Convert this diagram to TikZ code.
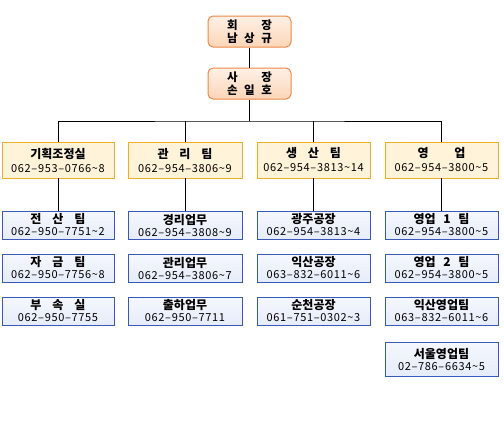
\documentclass[tikz,border=0pt]{standalone}
\usepackage{fontspec}
\setmainfont{Noto Sans CJK KR}
\newfontfamily\telfont[LetterSpace=6]{Noto Sans CJK KR}
\usetikzlibrary{shadows}
\definecolor{topfill}{HTML}{FCD6B8}
\definecolor{topdraw}{HTML}{EE8848}
\definecolor{midfill}{HTML}{FFF4D9}
\definecolor{middraw}{HTML}{EFAE2A}
\definecolor{lowfill}{HTML}{E6ECFA}
\definecolor{lowdraw}{HTML}{3A58B8}
\newcommand{\nm}[1]{{\fontsize{12}{13}\selectfont\bfseries #1}}
\newcommand{\tel}[1]{{\telfont\fontsize{11}{13}\selectfont #1}}
\newcommand{\spread}[2]{\makebox[#1][s]{#2}}
\tikzset{
  conn/.style={draw=black, line width=0.9pt},
  topbox/.style={draw=topdraw, line width=1pt, rounded corners=5pt,
    top color=topfill!35!white, bottom color=topfill,
    minimum width=83pt, minimum height=31pt, inner sep=0pt, align=center,
    font=\fontsize{11.5}{12.5}\selectfont\bfseries},
  midbox/.style={draw=middraw, line width=0.8pt, fill=midfill,
    drop shadow={shadow xshift=1.2pt, shadow yshift=-1.2pt, opacity=0.35},
    minimum height=36pt, inner sep=0pt, align=center},
  lowbox/.style={draw=lowdraw, line width=0.8pt, top color=lowfill!40!white, bottom color=lowfill,
    drop shadow={shadow xshift=1.2pt, shadow yshift=-1.2pt, opacity=0.35},
    minimum height=28pt, inner sep=0pt, align=center},
}
\begin{document}
\begin{tikzpicture}[x=1pt, y=-1pt]
\useasboundingbox (0,0) rectangle (504,440);
% top
\node[topbox] (ceo) at (249.5,31.5) {\spread{45pt}{회\hfill 장}\\\spread{45pt}{남\hfill 상\hfill 규}};
\node[topbox] (pres) at (249.5,83.5) {\spread{45pt}{사\hfill 장}\\\spread{45pt}{손\hfill 일\hfill 호}};
% level 2
\node[midbox, minimum width=112pt] (m1) at (58,160) {\nm{기획조정실}\\[2pt]\tel{062–953–0766\textasciitilde 8}};
\node[midbox, minimum width=114pt] (m2) at (185,160) {\nm{\spread{55pt}{관\hfill 리\hfill 팀}}\\[2pt]\tel{062–954–3806\textasciitilde 9}};
\node[midbox, minimum width=113pt] (m3) at (313.5,160) {\nm{\spread{55pt}{생\hfill 산\hfill 팀}}\\[2pt]\tel{062–954–3813\textasciitilde 14}};
\node[midbox, minimum width=113pt] (m4) at (441.5,160) {\nm{\spread{48pt}{영\hfill 업}}\\[2pt]\tel{062–954–3800\textasciitilde 5}};
% level 3 col 1
\node[lowbox, minimum width=112pt] (a1) at (58,225) {\nm{\spread{55pt}{전\hfill 산\hfill 팀}}\\\tel{062–950–7751\textasciitilde 2}};
\node[lowbox, minimum width=112pt] (a2) at (58,268) {\nm{\spread{55pt}{자\hfill 금\hfill 팀}}\\\tel{062–950–7756\textasciitilde 8}};
\node[lowbox, minimum width=112pt] (a3) at (58,311) {\nm{\spread{55pt}{부\hfill 속\hfill 실}}\\\tel{062–950–7755}};
% col 2
\node[lowbox, minimum width=114pt] (b1) at (185,225) {\nm{경리업무}\\\tel{062–954–3808\textasciitilde 9}};
\node[lowbox, minimum width=114pt] (b2) at (185,268) {\nm{관리업무}\\\tel{062–954–3806\textasciitilde 7}};
\node[lowbox, minimum width=114pt] (b3) at (185,311) {\nm{출하업무}\\\tel{062–950–7711}};
% col 3
\node[lowbox, minimum width=113pt] (c1) at (313.5,225) {\nm{광주공장}\\\tel{062–954–3813\textasciitilde 4}};
\node[lowbox, minimum width=113pt] (c2) at (313.5,268) {\nm{익산공장}\\\tel{063–832–6011\textasciitilde 6}};
\node[lowbox, minimum width=113pt] (c3) at (313.5,311) {\nm{순천공장}\\\tel{061–751–0302\textasciitilde 3}};
% col 4
\node[lowbox, minimum width=113pt] (d1) at (441.5,225) {\nm{\spread{56pt}{영업\hfill 1\hfill 팀}}\\\tel{062–954–3800\textasciitilde 5}};
\node[lowbox, minimum width=113pt] (d2) at (441.5,268) {\nm{\spread{56pt}{영업\hfill 2\hfill 팀}}\\\tel{062–954–3800\textasciitilde 5}};
\node[lowbox, minimum width=113pt] (d3) at (441.5,311) {\nm{익산영업팀}\\\tel{063–832–6011\textasciitilde 6}};
\node[lowbox, minimum width=113pt, minimum height=34pt] (d4) at (441.5,359) {\nm{서울영업팀}\\\tel{02–786–6634\textasciitilde 5}};
% connectors
\coordinate (bus) at (249.5,121);
\draw[conn] (ceo) -- (pres);
\draw[conn] (pres) -- (bus);
\draw[conn] (m1.north) |- (bus) -| (m4.north);
\draw[conn] (m2.north) -- (m2.north |- bus);
\draw[conn] (m3.north) -- (m3.north |- bus);
\draw[conn] (m1) -- (a1);
\draw[conn] (m2) -- (b1);
\draw[conn] (m3) -- (c1);
\draw[conn] (m4) -- (d1);
\end{tikzpicture}
\end{document}
